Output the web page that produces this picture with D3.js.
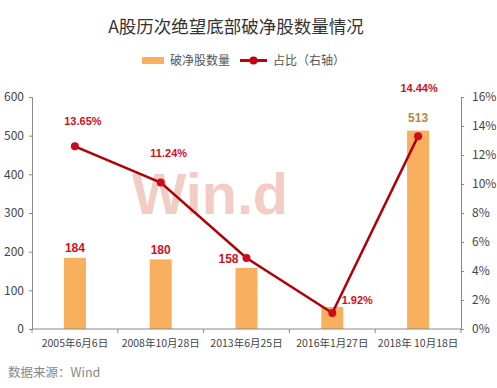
<!DOCTYPE html>
<html><head><meta charset="utf-8">
<script src="https://cdn.jsdelivr.net/npm/d3@7"></script>
<style>body{margin:0;background:#fff}svg{display:block}</style>
</head><body>
<script>
const categories = ["2005年6月6日","2008年10月28日","2013年6月25日","2016年1月27日","2018年 10月18日"];
const counts = [184, 180, 158, 57, 513];
const ratios = [12.6, 10.1, 4.9, 1.1, 13.3];
const ratioLabels = ["13.65%","11.24%","","1.92%","14.44%"];
const leftTicks = [0,100,200,300,400,500,600];
const rightTicks = [0,2,4,6,8,10,12,14,16];

const CJK="'Noto Sans CJK SC','Noto Sans',sans-serif";
const LAT="'Liberation Sans',Arial,sans-serif";
const W=497,H=388;
const svg=d3.select("body").append("svg").attr("width",W).attr("height",H).style("font-family",CJK);
const x0=32,x1=461,yTop=97,yBot=329;
const x=d3.scaleBand().domain(categories).range([x0,x1]);
const yL=d3.scaleLinear().domain([0,600]).range([yBot,yTop]);
const yR=d3.scaleLinear().domain([0,16]).range([yBot,yTop]);

// title
svg.append("text").attr("x",236).attr("y",33).attr("text-anchor","middle")
  .style("font-family",CJK).attr("font-size",17.5).attr("fill","#333").text("A股历次绝望底部破净股数量情况");

// legend
svg.append("rect").attr("x",142).attr("y",57).attr("width",22).attr("height",7).attr("fill","#f8b05e");
svg.append("text").attr("x",170).attr("y",65).attr("font-size",12).attr("fill","#555").text("破净股数量");
svg.append("line").attr("x1",240).attr("x2",267).attr("y1",60.5).attr("y2",60.5).attr("stroke","#c00010").attr("stroke-width",3);
svg.append("circle").attr("cx",253.5).attr("cy",60.5).attr("r",4).attr("fill","#c00010");
svg.append("text").attr("x",273).attr("y",65).attr("font-size",12).attr("fill","#555").text("占比（右轴）");

// watermark
svg.append("text").attr("x",132).attr("y",214).attr("font-size",58).attr("font-weight","bold")
  .style("font-family",LAT)
  .attr("textLength",156).attr("lengthAdjust","spacingAndGlyphs")
  .attr("fill","#f2cdc6").text("Win.d");

// bars
svg.append("g").selectAll("rect").data(counts).join("rect")
  .attr("x",(d,i)=>x(categories[i])+x.bandwidth()/2-11).attr("width",22)
  .attr("y",d=>yL(d)).attr("height",d=>yBot-yL(d)).attr("fill","#f8b05e");

// axes
const axC="#888";
const gl=svg.append("g").attr("transform",`translate(${x0},0)`).call(d3.axisLeft(yL).tickValues(leftTicks).tickSize(3).tickPadding(5));
const gr=svg.append("g").attr("transform",`translate(${x1},0)`).call(d3.axisRight(yR).tickValues(rightTicks).tickSize(3).tickPadding(8).tickFormat(d=>d+"%"));
const gb=svg.append("g").attr("transform",`translate(0,${yBot})`).call(d3.axisBottom(x).tickSize(0).tickPadding(11));
[gl,gr,gb].forEach(g=>{g.attr("font-family",null);g.select(".domain").attr("stroke",axC);g.selectAll(".tick line").attr("stroke",axC);
  g.selectAll("text").style("font-family",CJK).attr("fill","#444");});
gl.selectAll("text").attr("font-size",12);
gr.selectAll("text").attr("font-size",12);
gb.selectAll("text").attr("font-size",10.5);
gb.select(".domain").attr("d",`M${x0},0H${x1}`);
// band boundary ticks
svg.append("g").selectAll("line").data(categories.concat(["__end"])).join("line")
  .attr("x1",(d,i)=>i<categories.length?x(d):x1).attr("x2",(d,i)=>i<categories.length?x(d):x1)
  .attr("y1",yBot).attr("y2",yBot+4).attr("stroke",axC);

// line
const cx=(i)=>x(categories[i])+x.bandwidth()/2;
svg.append("path").datum(ratios).attr("fill","none").attr("stroke","#b00008").attr("stroke-width",2.5)
  .attr("d",d3.line().x((d,i)=>cx(i)).y(d=>yR(d)));
svg.append("g").selectAll("circle").data(ratios).join("circle")
  .attr("cx",(d,i)=>cx(i)).attr("cy",d=>yR(d)).attr("r",4).attr("fill","#cc0a1c");

// count labels
const countLabelDx=[0,0,-18,0,0];
const countLabelDy=[-6,-5,-5,0,-9];
svg.append("g").selectAll("text").data(counts).join("text")
  .attr("x",(d,i)=>cx(i)+countLabelDx[i]).attr("y",(d,i)=>yL(d)+countLabelDy[i])
  .attr("text-anchor","middle").attr("font-size",12).attr("font-weight","bold")
  .style("font-family",LAT)
  .attr("fill",(d,i)=>i===4?"#b5874a":"#d0101b")
  .text((d,i)=>i===3?"":d);

// ratio labels
const rdx=[8,8,0,25,1];
const rdy=[-21,-26,0,-9,-44];
svg.append("g").selectAll("text").data(ratios).join("text")
  .attr("x",(d,i)=>cx(i)+rdx[i]).attr("y",(d,i)=>yR(d)+rdy[i])
  .attr("text-anchor","middle").attr("font-size",11).attr("font-weight","bold")
  .style("font-family",LAT)
  .attr("fill","#d0101b").text((d,i)=>ratioLabels[i]);

// source
svg.append("text").attr("x",8).attr("y",377).attr("font-size",12.5).attr("fill","#888").text("数据来源：Wind");
</script>
</body></html>
